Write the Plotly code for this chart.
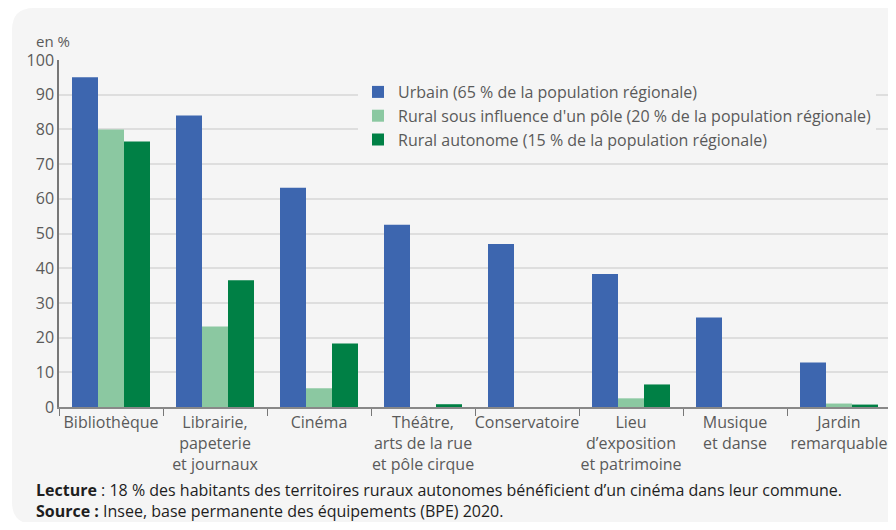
import plotly.graph_objects as go

categories = ["Bibliothèque", "Librairie,<br>papeterie<br>et journaux", "Cinéma",
              "Théâtre,<br>arts de la rue<br>et pôle cirque", "Conservatoire",
              "Lieu<br>d’exposition<br>et patrimoine", "Musique<br>et danse",
              "Jardin<br>remarquable"]
urbain = [95, 84, 63.2, 52.5, 47, 38.3, 25.8, 12.8]
rural_pole = [80, 23.2, 5.4, 0, 0, 2.5, 0, 1.0]
rural_auto = [76.5, 36.5, 18.3, 0.8, 0, 6.5, 0, 0.7]
series_names = ["Urbain (65 % de la population régionale)",
                "Rural sous influence d'un pôle (20 % de la population régionale)",
                "Rural autonome (15 % de la population régionale)"]
colors = ["#3d66af", "#8bc8a1", "#008045"]
y_ticks = list(range(0, 101, 10))

OFF = 8  # page body margin
W, H = 896 - OFF, 530 - 2 * OFF
# target screen pixels for plot area
SX0, SX1, SY0, SY1 = 59, 891, 60, 407
ML, MR, MT, MB = SX0 - OFF, W - (SX1 - OFF), SY0 - OFF, H - (SY1 - OFF)
PW, PH = W - ML - MR, H - MT - MB

def px_x(p):
    return (p - SX0) / PW

def px_y(p):
    return (SY1 - p) / PH

fig = go.Figure()
for name, vals, col in zip(series_names, [urbain, rural_pole, rural_auto], colors):
    fig.add_trace(go.Bar(x=categories, y=vals, name=name, marker_color=col,
                         marker_line_width=0))

# card background with rounded corners
x0, y0, x1, y1, r = 12, 8, 905, 524, 22
X0, X1 = px_x(x0), px_x(x1)
Y0, Y1 = px_y(y0), px_y(y1)
rx, ry = r / PW, r / PH
path = (f"M {X0+rx},{Y0} L {X1},{Y0} L {X1},{Y1} L {X0+rx},{Y1} "
        f"Q {X0},{Y1} {X0},{Y1+ry} L {X0},{Y0-ry} Q {X0},{Y0} {X0+rx},{Y0} Z")
fig.add_shape(type="path", path=path, xref="paper", yref="paper",
              fillcolor="#f5f5f5", line_width=0, layer="below")

font_family = "Open Sans, Noto Sans, sans-serif"
FS = 16
fig.update_layout(
    width=W, height=H,
    margin=dict(l=ML, r=MR, t=MT, b=MB, pad=0, autoexpand=False),
    paper_bgcolor="white", plot_bgcolor="rgba(0,0,0,0)",
    barmode="group", bargap=0.25, bargroupgap=0,
    font=dict(family=font_family, size=FS, color="#5a5a5a"),
    showlegend=True,
    legend=dict(x=px_x(358), y=px_y(75), xanchor="left", yanchor="top",
                bgcolor="#f5f5f5", font=dict(size=FS, color="#5a5a5a"),
                traceorder="normal", itemwidth=30),
    xaxis=dict(tickson="boundaries", ticks="outside", ticklen=7, tickcolor="#777",
               showline=True, linecolor="#888", linewidth=1.5, tickangle=0,
               automargin=False, tickfont=dict(size=FS, color="#5a5a5a")),
    yaxis=dict(range=[0, 100], tickvals=y_ticks, showgrid=True, gridcolor="#dedede",
               gridwidth=1.5, showline=True, linecolor="#777", linewidth=1.5,
               zeroline=False, ticks="", automargin=False,
               tickfont=dict(size=FS, color="#5a5a5a")),
)

fig.add_annotation(text="en %", xref="paper", yref="paper", x=px_x(34), y=px_y(41),
                   xanchor="left", yanchor="middle", showarrow=False,
                   font=dict(size=FS - 1, color="#5a5a5a"))
fig.add_annotation(text="<b>Lecture</b> : 18 % des habitants des territoires ruraux autonomes bénéficient d’un cinéma dans leur commune.",
                   xref="paper", yref="paper", x=px_x(34), y=px_y(490),
                   xanchor="left", yanchor="middle", showarrow=False,
                   font=dict(size=FS, color="#1e1e1e"))
fig.add_annotation(text="<b>Source :</b> Insee, base permanente des équipements (BPE) 2020.",
                   xref="paper", yref="paper", x=px_x(34), y=px_y(511),
                   xanchor="left", yanchor="middle", showarrow=False,
                   font=dict(size=FS, color="#1e1e1e"))

fig.write_html("out.html")
